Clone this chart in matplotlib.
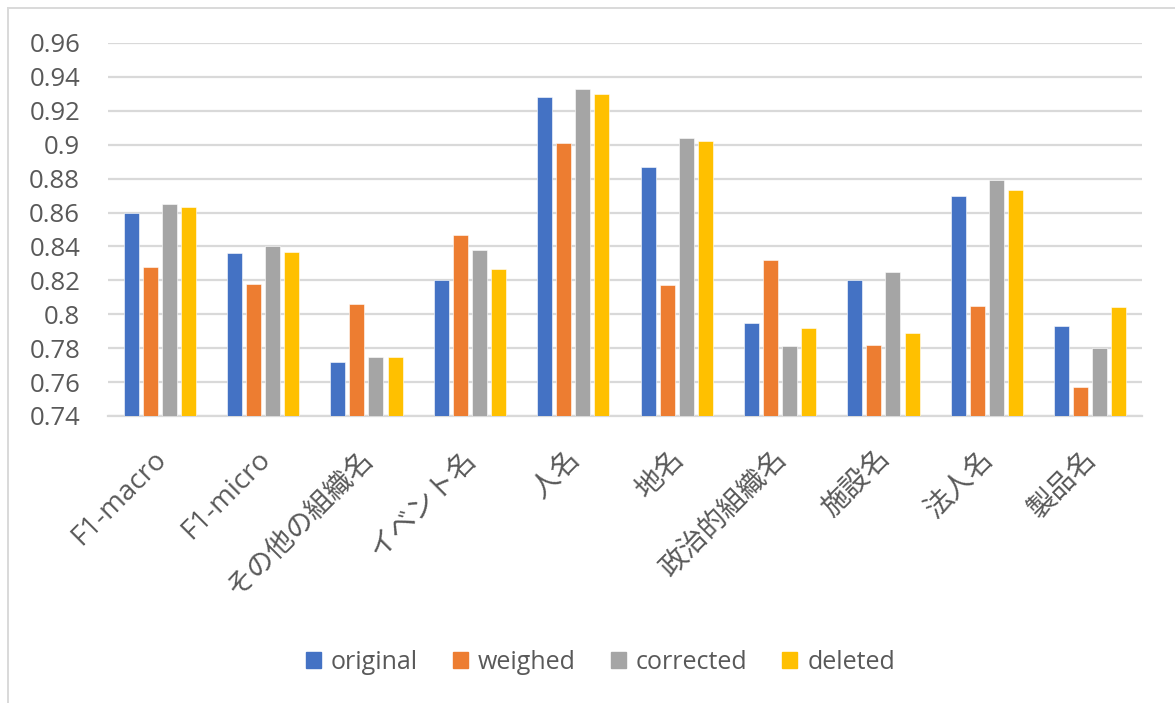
import matplotlib.pyplot as plt
from matplotlib.lines import Line2D
from matplotlib.transforms import ScaledTranslation
import numpy as np

plt.rcParams['font.family'] = ['Open Sans', 'Noto Sans CJK JP', 'DejaVu Sans']

# F1 scores per entity type
categories = ['F1-macro', 'F1-micro', 'その他の組織名', 'イベント名', '人名',
              '地名', '政治的組織名', '施設名', '法人名', '製品名']
original = [0.860, 0.836, 0.772, 0.820, 0.928, 0.887, 0.795, 0.820, 0.870, 0.793]
weighed = [0.828, 0.818, 0.806, 0.847, 0.901, 0.8175, 0.832, 0.782, 0.805, 0.757]
corrected = [0.865, 0.840, 0.775, 0.838, 0.933, 0.904, 0.781, 0.825, 0.879, 0.780]
deleted = [0.863, 0.8365, 0.775, 0.8265, 0.930, 0.902, 0.792, 0.789, 0.873, 0.804]

series = [('original', original, '#4472C4'),
          ('weighed', weighed, '#ED7D31'),
          ('corrected', corrected, '#A5A5A5'),
          ('deleted', deleted, '#FFC000')]

txt = '#595959'
grid = '#D9D9D9'

fig = plt.figure(figsize=(11.75, 7.03), dpi=100)
ax = fig.add_axes([0.0919, 0.4083, 0.88, 0.5306])

x = np.arange(len(categories))
pitch = 0.184
width = 0.145
for i, (name, vals, col) in enumerate(series):
    ax.bar(x + (i - 1.5) * pitch, vals, width, color=col, label=name,
           edgecolor='white', linewidth=0.4, zorder=3)

ax.set_ylim(0.74, 0.96)
ax.set_xlim(-0.5, len(categories) - 0.5)
ax.set_yticks(np.arange(0.74, 0.9601, 0.02))
ax.set_yticklabels(['0.74', '0.76', '0.78', '0.8', '0.82', '0.84', '0.86',
                    '0.88', '0.9', '0.92', '0.94', '0.96'])
ax.yaxis.grid(True, color=grid, linewidth=1.6, zorder=0)
for s in ['top', 'right', 'left']:
    ax.spines[s].set_visible(False)
ax.spines['bottom'].set_color(grid)
ax.spines['bottom'].set_linewidth(1.6)
ax.tick_params(axis='y', length=0, pad=20, labelsize=18.5, labelcolor=txt)
ax.tick_params(axis='x', length=0, pad=21, labelsize=20, labelcolor=txt)
ax.set_xticks(x)
ax.set_xticklabels(categories, rotation=45, ha='right', va='top',
                   rotation_mode='anchor')
# nudge rotated labels so their ends sit under the group centres
shift = ScaledTranslation(-7 / 100, 0, fig.dpi_scale_trans)
for lbl in ax.get_xticklabels():
    lbl.set_transform(lbl.get_transform() + shift)

handles = [plt.Rectangle((0, 0), 1, 1, color=c) for _, _, c in series]
fig.legend(handles, [n for n, _, _ in series], loc='center',
           bbox_to_anchor=(0.511, 0.058), ncol=4, frameon=False,
           fontsize=18, labelcolor=txt, handlelength=0.6, handleheight=0.6,
           handletextpad=0.4, columnspacing=1.4)

# chart frame
fig.add_artist(Line2D([8 / 1175, 1], [1 - 8 / 703] * 2, color=grid, linewidth=1.4))
fig.add_artist(Line2D([8 / 1175] * 2, [0, 1 - 8 / 703], color=grid, linewidth=1.4))

fig.savefig('out.png', dpi=100)
